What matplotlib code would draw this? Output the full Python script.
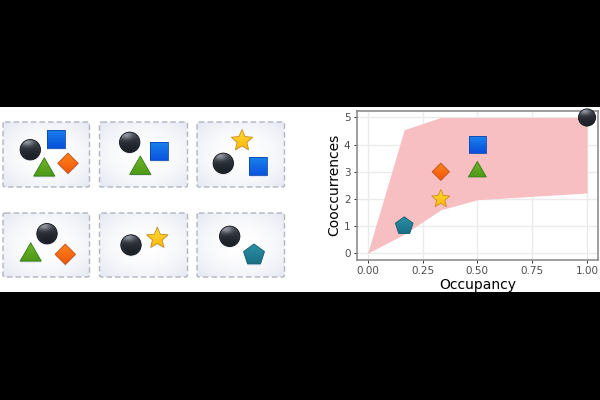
import numpy as np
import matplotlib
matplotlib.use('Agg')
import matplotlib.pyplot as plt
from matplotlib.patches import Polygon, Circle, FancyBboxPatch

# ribbon
ribbon_x = [0, 1/6, 1/3, 1/2, 1]
ribbon_low = [0, 0.70, 1.60, 1.97, 2.22]
ribbon_high = [0, 4.55, 5, 5, 5]

# glyphs on the chart
point_shapes = ['pentagon', 'star', 'diamond', 'triangle', 'square', 'circle']
point_occupancy = [1/6, 1/3, 1/3, 1/2, 1/2, 1]
point_cooccurrences = [1, 2, 3, 3, 4, 5]

x_ticks = [0, 0.25, 0.5, 0.75, 1]
x_tick_labels = ['0.00', '0.25', '0.50', '0.75', '1.00']
y_ticks = [0, 1, 2, 3, 4, 5]

# panel boxes in pixels: left, top, right, bottom
panel_boxes = [(3, 122, 89.5, 187), (99.5, 122, 187.5, 187), (197, 122, 284.5, 187),
               (3, 213, 89.5, 277), (99.5, 213, 187.5, 277), (197, 213, 284.5, 277)]
panel_glyphs = [
    [('square', 56, 139), ('circle', 30.3, 149.7), ('triangle', 44.3, 170), ('diamond', 68, 163.3)],
    [('circle', 129.7, 142.3), ('square', 159, 151.3), ('triangle', 140.3, 168.3)],
    [('star', 242, 140.7), ('circle', 223.3, 163.3), ('square', 258, 166.3)],
    [('circle', 47, 233.7), ('triangle', 30.7, 255), ('diamond', 65.3, 254.3)],
    [('circle', 131, 245), ('star', 157.3, 238.3)],
    [('circle', 229.7, 236.3), ('pentagon', 254, 255)],
]

# top colour, bottom colour, edge colour
colors = {
    'circle': ('#454b57', '#14181f', '#0c0f14'),
    'square': ('#1f8bf0', '#0447d8', '#0a47b0'),
    'triangle': ('#74b52a', '#3f8f10', '#2f7a14'),
    'diamond': ('#ff8a1e', '#f04e08', '#c24c14'),
    'star': ('#ffdf3a', '#fdb002', '#c98c1c'),
    'pentagon': ('#2f94ab', '#14697f', '#125a6c'),
}


def shape_points(shape, cx, cy, r, square_k):
    if shape == 'square':
        a = [45, 135, 225, 315]
        rr = [r * square_k] * 4
    elif shape == 'diamond':
        a = [0, 90, 180, 270]
        rr = [r] * 4
    elif shape == 'triangle':
        a = [90, 210, 330]
        rr = [r * 1.2] * 3
    elif shape == 'pentagon':
        a = [90, 162, 234, 306, 18]
        rr = [r * 1.08] * 5
    else:
        a = [90 + 36 * i for i in range(10)]
        rr = [r * 1.1 if i % 2 == 0 else r * 0.5 for i in range(10)]
    # overlay y axis points down
    return [(cx + q * np.cos(np.radians(t)), cy - q * np.sin(np.radians(t))) for t, q in zip(a, rr)]


def draw_glyph(ax, shape, cx, cy, r, z, square_k=1.25, shadow=True):
    top, bottom, edge = colors[shape]
    if shape == 'circle':
        patch = Circle((cx, cy), r, facecolor='none', edgecolor=edge, lw=0.6, zorder=z + 2)
        under = Circle((cx, cy + 1.5), r, facecolor='#5a78c8', edgecolor='none', alpha=0.14, zorder=z)
    else:
        pts = shape_points(shape, cx, cy, r, square_k)
        patch = Polygon(pts, closed=True, facecolor='none', edgecolor=edge, lw=0.6,
                        joinstyle='round', zorder=z + 2)
        under = Polygon([(p, q + 1.5) for p, q in pts], closed=True, facecolor='#5a78c8',
                        edgecolor='none', alpha=0.14, zorder=z)
    if shadow:
        ax.add_patch(under)
    ax.add_patch(patch)

    c1 = np.array(matplotlib.colors.to_rgb(top))
    c2 = np.array(matplotlib.colors.to_rgb(bottom))
    t = np.linspace(0, 1, 40)[:, None, None]
    u = np.linspace(-1, 1, 40)[None, :, None]
    v = np.linspace(-1, 1, 40)[:, None, None]
    grad = c1 * (1 - t) + c2 * t + 0 * u
    if shape == 'circle':
        # highlight up and to the left, dark middle
        spot = np.exp(-(((u + 0.25) / 0.5) ** 2 + ((v + 0.55) / 0.3) ** 2))
        rim = np.clip(np.sqrt(u ** 2 + v ** 2) - 0.6, 0, 1)
        grad = np.clip(grad * 0.9 + 0.35 * spot + 0.25 * rim, 0, 1)
    im = ax.imshow(grad, extent=(cx - r * 1.3, cx + r * 1.3, cy + r * 1.3, cy - r * 1.3),
                   zorder=z + 1, interpolation='bilinear', aspect='auto')
    im.set_clip_path(patch)


fig = plt.figure(figsize=(6, 4), dpi=100, facecolor='black')

# white band behind everything, in pixels
overlay_bg = fig.add_axes([0, 0, 1, 1])
overlay_bg.set_xlim(0, 600)
overlay_bg.set_ylim(400, 0)
overlay_bg.axis('off')
overlay_bg.add_patch(plt.Rectangle((0, 107), 600, 185, facecolor='white', edgecolor='none'))

# panels
for (left, top, right, bottom), glyphs in zip(panel_boxes, panel_glyphs):
    yy, xx = np.mgrid[-1:1:60j, -1:1:90j]
    dist = np.clip(np.sqrt(xx ** 2 + yy ** 2) / 1.4, 0, 1) ** 2
    shade = np.ones((60, 90, 3)) * (1 - dist[..., None]) + np.array([0.90, 0.91, 0.95]) * dist[..., None]
    box = FancyBboxPatch((left, top), right - left, bottom - top, boxstyle='round,pad=0,rounding_size=2',
                         facecolor='none', edgecolor='#b0b5c2', lw=1.0, linestyle=(0, (4, 2.2)), zorder=3)
    overlay_bg.add_patch(box)
    im = overlay_bg.imshow(shade, extent=(left, right, bottom, top), zorder=2, aspect='auto')
    im.set_clip_path(box)
    for shape, gx, gy in glyphs:
        draw_glyph(overlay_bg, shape, gx, gy, 10.2, 5)
overlay_bg.set_xlim(0, 600)
overlay_bg.set_ylim(400, 0)

# chart
ax = fig.add_axes([356.7 / 600, 1 - 260 / 400, (598 - 356.7) / 600, (260 - 110.7) / 400])
ax.patch.set_alpha(0)
ax.fill_between(ribbon_x, ribbon_low, ribbon_high, color='#f7bfc1', lw=0, zorder=2)
ax.set_xlim(-0.05, 1.05)
ax.set_ylim(-0.25, 5.25)
ax.set_xticks(x_ticks)
ax.set_xticklabels(x_tick_labels)
ax.set_yticks(y_ticks)
ax.grid(True, color='#ebebeb', lw=1.0, zorder=1)
ax.set_axisbelow(True)
ax.tick_params(labelsize=7.5, labelcolor='#4d4d4d', color='#333333', length=2.5, width=0.7, pad=2)
for s in ax.spines.values():
    s.set_color('#858585')
    s.set_linewidth(1.1)
ax.set_xlabel('Occupancy', fontsize=10, labelpad=1.5)
ax.set_ylabel('Cooccurrences', fontsize=10, labelpad=2)

# glyphs go on a pixel overlay so they stay undistorted
top_ax = fig.add_axes([0, 0, 1, 1])
top_ax.set_xlim(0, 600)
top_ax.set_ylim(400, 0)
top_ax.axis('off')
top_ax.patch.set_alpha(0)
for shape, ox, oy in zip(point_shapes, point_occupancy, point_cooccurrences):
    px, py = ax.transData.transform((ox, oy))
    draw_glyph(top_ax, shape, px, 400 - py, 8.6, 5, square_k=1.4, shadow=False)
top_ax.set_xlim(0, 600)
top_ax.set_ylim(400, 0)

fig.savefig('out.png', dpi=100, facecolor='black')
